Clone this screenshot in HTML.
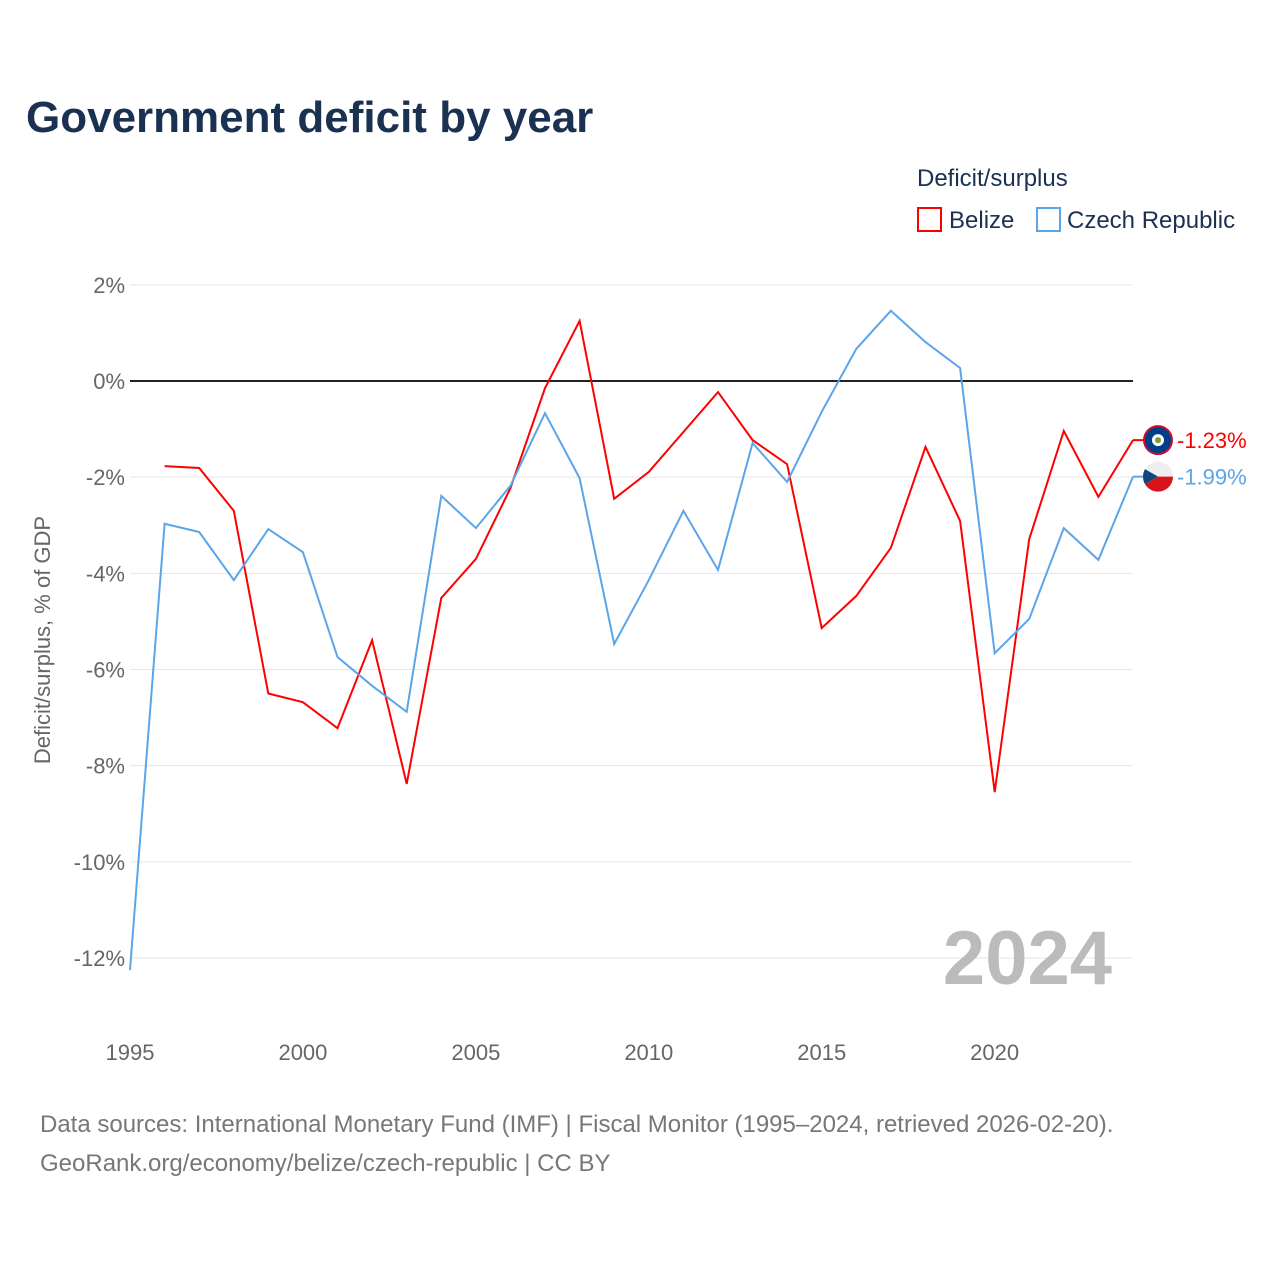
<!DOCTYPE html>
<html><head><meta charset="utf-8"><style>
body{margin:0;background:#fff;font-family:"Liberation Sans",sans-serif}
</style></head><body>
<svg width="1280" height="1280" xmlns="http://www.w3.org/2000/svg">
<text x="26" y="132" font-size="44" font-weight="bold" fill="#1a3152">Government deficit by year</text>
<text x="917" y="186" font-size="24" fill="#1a3152">Deficit/surplus</text>
<g><rect x="918" y="208" width="23" height="23" fill="none" stroke="#f00" stroke-width="2"/><text x="949" y="228" font-size="24" fill="#1a3152">Belize</text></g>
<g><rect x="1037" y="208" width="23" height="23" fill="none" stroke="#5aa5ea" stroke-width="2"/><text x="1067" y="228" font-size="24" fill="#1a3152">Czech Republic</text></g>
<g id="grid"></g>
<text transform="translate(50,640) rotate(-90)" text-anchor="middle" font-size="22" fill="#666">Deficit/surplus, % of GDP</text>
<text x="1112" y="984" text-anchor="end" font-size="76" font-weight="bold" fill="#bbb">2024</text>
<g id="marks"></g>
<text x="40" y="1132" font-size="24" fill="#777">Data sources: International Monetary Fund (IMF) | Fiscal Monitor (1995–2024, retrieved 2026-02-20).</text>
<text x="40" y="1171" font-size="24" fill="#777">GeoRank.org/economy/belize/czech-republic | CC BY</text>
</svg>
<script>
const years=[1995,1996,1997,1998,1999,2000,2001,2002,2003,2004,2005,2006,2007,2008,2009,2010,2011,2012,2013,2014,2015,2016,2017,2018,2019,2020,2021,2022,2023,2024];
const belize=[null,-1.77,-1.81,-2.7,-6.5,-6.68,-7.22,-5.39,-8.38,-4.51,-3.7,-2.23,-0.15,1.25,-2.45,-1.89,-1.06,-0.23,-1.23,-1.73,-5.14,-4.47,-3.47,-1.37,-2.91,-8.55,-3.29,-1.04,-2.41,-1.23];
const czech=[-12.25,-2.97,-3.14,-4.14,-3.08,-3.56,-5.74,-6.34,-6.88,-2.39,-3.06,-2.18,-0.67,-2.02,-5.47,-4.14,-2.7,-3.93,-1.29,-2.1,-0.64,0.67,1.46,0.81,0.27,-5.66,-4.95,-3.06,-3.72,-1.99];
const yTicks=[2,0,-2,-4,-6,-8,-10,-12];
const xTicks=[1995,2000,2005,2010,2015,2020];
const NS="http://www.w3.org/2000/svg";
const X=y=>130+(y-1995)*(1133-130)/29;
const Y=v=>381-v*(958-381)/12;
const grid=document.getElementById('grid'),marks=document.getElementById('marks');
function mk(tag,attrs,parent){const e=document.createElementNS(NS,tag);for(const k in attrs)e.setAttribute(k,attrs[k]);parent.appendChild(e);return e;}
yTicks.forEach(t=>{
 const l=mk('line',{x1:130,x2:1133,y1:Y(t),y2:Y(t),stroke:t===0?'#222':'#e6e6e6','stroke-width':t===0?2:1},grid);
 
 
 const tx=mk('text',{x:125,y:Y(t)+8,'text-anchor':'end','font-size':22,fill:'#666'},grid);
 tx.textContent=(t>0?t:t===0?0:'-'+(-t))+'%';
 
 
});
xTicks.forEach(t=>{
 const tx=mk('text',{x:X(t),y:1060,'text-anchor':'middle','font-size':22,fill:'#666'},grid);
 tx.textContent=t;
 
 
});
function line(vals,color,name){
 let d='';let pen=false;
 vals.forEach((v,i)=>{if(v===null){pen=false;return;}d+=(pen?'L':'M')+X(years[i]).toFixed(1)+' '+Y(v).toFixed(1);pen=true;});
 const p=mk('path',{d:d,fill:'none',stroke:color,'stroke-width':2},marks);
 
 
 const last=vals[vals.length-1];
 mk('line',{x1:X(2024),x2:X(2024)+12,y1:Y(last),y2:Y(last),stroke:color,'stroke-width':2},marks);
 const lb=mk('text',{x:1177,y:Y(last)+8,'font-size':22,fill:color},marks);
 lb.textContent=last.toFixed(2)+'%';
 
 
 return last;
}
const lb=line(belize,'#f00','belize-line');
const lc=line(czech,'#5aa5ea','czech-line');
// flags
let g=mk('g',{},marks);


mk('circle',{cx:1158,cy:Y(lb),r:15,fill:'#c8102e'},g);
mk('circle',{cx:1158,cy:Y(lb),r:13,fill:'#003f87'},g);
mk('circle',{cx:1158,cy:Y(lb),r:6,fill:'#fff'},g);
mk('circle',{cx:1158,cy:Y(lb),r:3,fill:'#7a9a3a'},g);
g=mk('g',{},marks);


const cy=Y(lc);
mk('circle',{cx:1158,cy:cy,r:15,fill:'#eee'},g);
mk('path',{d:`M1158 ${cy} L1173 ${cy} A15 15 0 0 1 1158 ${cy+15} A15 15 0 0 1 1145 ${cy+7.5} Z`,fill:'#d7141a'},g);
mk('path',{d:`M1158 ${cy} L1145 ${cy-7.5} A15 15 0 0 0 1145 ${cy+7.5} Z`,fill:'#11457e'},g);
</script>
</body></html>
